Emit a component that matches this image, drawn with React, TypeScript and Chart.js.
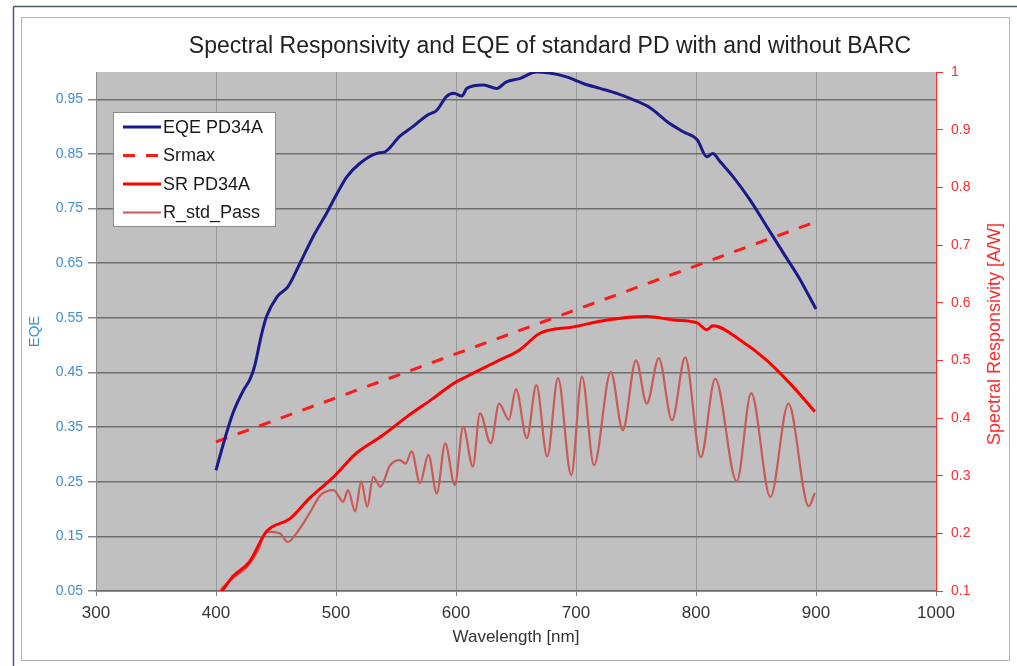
import React, { useEffect, useRef } from "react";
import { Chart, registerables } from "chart.js";

Chart.register(...registerables);

const TITLE = "Spectral Responsivity and EQE of standard PD with and without BARC";
const X_TITLE = "Wavelength [nm]";
const Y_LEFT_TITLE = "EQE";
const Y_RIGHT_TITLE = "Spectral Responsivity [A/W]";
const seriesNames = ["EQE PD34A", "Srmax", "SR PD34A", "R_std_Pass"];

const xTicks = [300, 400, 500, 600, 700, 800, 900, 1000];
const eqeTicks = [0.05, 0.15, 0.25, 0.35, 0.45, 0.55, 0.65, 0.75, 0.85, 0.95];
const srTicks = [0.1, 0.2, 0.3, 0.4, 0.5, 0.6, 0.7, 0.8, 0.9, 1.0];

const eqeWavelength = [400, 407, 414, 423, 428, 432, 438, 442, 451, 460, 470, 481, 492, 501, 509, 520, 534, 541, 553, 564, 576, 584, 592, 598, 605, 609, 623, 634, 642, 653, 667, 678, 692, 706, 720, 734, 748, 762, 776, 789, 801, 809, 814, 820, 831, 845, 859, 873, 887, 900];
const eqeValues = [0.271, 0.326, 0.375, 0.418, 0.436, 0.46, 0.52, 0.552, 0.589, 0.607, 0.65, 0.699, 0.741, 0.778, 0.808, 0.833, 0.851, 0.854, 0.882, 0.9, 0.921, 0.93, 0.955, 0.961, 0.956, 0.97, 0.976, 0.97, 0.982, 0.988, 1.0, 0.998, 0.991, 0.979, 0.97, 0.961, 0.949, 0.934, 0.909, 0.891, 0.876, 0.845, 0.851, 0.836, 0.808, 0.766, 0.717, 0.668, 0.619, 0.566];

const srmaxWavelength = [400, 900];
const srmaxValues = [0.323, 0.726];

const srWavelength = [400, 405, 414, 428, 442, 462, 478, 498, 517, 539, 559, 581, 598, 609, 634, 653, 670, 698, 726, 759, 781, 801, 809, 814, 837, 859, 881, 899];
const srValues = [0.088, 0.1, 0.125, 0.151, 0.203, 0.226, 0.261, 0.298, 0.339, 0.37, 0.402, 0.434, 0.46, 0.472, 0.498, 0.518, 0.547, 0.558, 0.57, 0.576, 0.57, 0.565, 0.553, 0.56, 0.535, 0.5, 0.454, 0.411];

const rstdWavelength = [400, 403, 414, 426, 435, 442, 453, 460, 467, 478, 487, 498, 506, 510, 516, 521, 526, 531, 537, 545, 553, 558, 563, 570, 577, 584, 591, 599, 606, 614, 620, 629, 636, 644, 650, 659, 667, 676, 685, 696, 705, 715, 729, 739, 750, 759, 769, 780, 791, 804, 816, 834, 846, 862, 877, 894, 899];
const rstdValues = [0.085, 0.099, 0.122, 0.142, 0.17, 0.203, 0.2, 0.185, 0.2, 0.235, 0.266, 0.275, 0.255, 0.275, 0.238, 0.29, 0.246, 0.298, 0.281, 0.318, 0.327, 0.321, 0.342, 0.287, 0.336, 0.269, 0.356, 0.284, 0.385, 0.316, 0.408, 0.356, 0.425, 0.397, 0.45, 0.365, 0.457, 0.333, 0.469, 0.301, 0.472, 0.318, 0.48, 0.379, 0.5, 0.425, 0.504, 0.396, 0.505, 0.332, 0.468, 0.29, 0.443, 0.263, 0.425, 0.247, 0.27];

const COLORS = {
  eqe: "#1a1a8a",
  srmax: "#ff1a1a",
  sr: "#ff0000",
  rstd: "#c95a55",
  leftAxis: "#3f8fd2",
  rightAxis: "#ff2a2a",
  plotBg: "#c0c0c0",
};

const FONT = "'Liberation Sans', Arial, sans-serif";

const toPoints = (xs: number[], ys: number[]) => xs.map((x, i) => ({ x, y: ys[i] }));

const decorPlugin = {
  id: "decor",
  beforeDraw(chart: any) {
    const { ctx, chartArea: a } = chart;
    ctx.save();
    ctx.fillStyle = "#ffffff";
    ctx.fillRect(0, 0, chart.width, chart.height);
    // outer frame
    ctx.strokeStyle = "#4b5870";
    ctx.lineWidth = 1.5;
    ctx.beginPath();
    ctx.moveTo(13.5, 6.5);
    ctx.lineTo(1017, 6.5);
    ctx.moveTo(13.5, 6.5);
    ctx.lineTo(13.5, 666);
    ctx.stroke();
    ctx.strokeStyle = "#b4b4b4";
    ctx.lineWidth = 1;
    ctx.strokeRect(21.5, 17.5, 988, 643);
    // plot background
    ctx.fillStyle = COLORS.plotBg;
    ctx.fillRect(a.left, a.top, a.right - a.left, a.bottom - a.top);
    ctx.restore();
  },
  afterDraw(chart: any) {
    const { ctx } = chart;
    ctx.save();
    // title
    ctx.fillStyle = "#222222";
    ctx.font = `23px ${FONT}`;
    ctx.textAlign = "center";
    ctx.textBaseline = "middle";
    ctx.fillText(TITLE, 550, 47);
    // right axis title (reads bottom to top)
    ctx.save();
    ctx.translate(995, 334);
    ctx.rotate(-Math.PI / 2);
    ctx.fillStyle = COLORS.rightAxis;
    ctx.font = `18px ${FONT}`;
    ctx.fillText(Y_RIGHT_TITLE, 0, 0);
    ctx.restore();
    // legend
    const bx = 113.5, by = 112.5, bw = 162, bh = 114;
    ctx.fillStyle = "#ffffff";
    ctx.fillRect(bx, by, bw, bh);
    ctx.strokeStyle = "#8c8c8c";
    ctx.lineWidth = 1;
    ctx.strokeRect(bx, by, bw, bh);
    const styles = [
      { color: COLORS.eqe, width: 3, dash: [] as number[] },
      { color: COLORS.srmax, width: 3, dash: [12, 11] },
      { color: COLORS.sr, width: 3, dash: [] as number[] },
      { color: COLORS.rstd, width: 2, dash: [] as number[] },
    ];
    const rowY = [127, 155.5, 184, 212.5];
    seriesNames.forEach((name, i) => {
      const s = styles[i];
      ctx.beginPath();
      ctx.setLineDash(s.dash);
      ctx.strokeStyle = s.color;
      ctx.lineWidth = s.width;
      ctx.moveTo(123, rowY[i]);
      ctx.lineTo(161, rowY[i]);
      ctx.stroke();
      ctx.setLineDash([]);
      ctx.fillStyle = "#1a1a1a";
      ctx.font = `18px ${FONT}`;
      ctx.textAlign = "left";
      ctx.textBaseline = "middle";
      ctx.fillText(name, 163, rowY[i] + 1);
    });
    ctx.restore();
  },
};

export default function App() {
  const canvasRef = useRef<HTMLCanvasElement | null>(null);

  useEffect(() => {
    const canvas = canvasRef.current;
    if (!canvas) return;
    const chart = new Chart(canvas, {
      type: "line",
      data: {
        datasets: [
          {
            label: seriesNames[0],
            data: toPoints(eqeWavelength, eqeValues),
            borderColor: COLORS.eqe,
            borderWidth: 3,
            pointRadius: 0,
            cubicInterpolationMode: "monotone",
            yAxisID: "y",
          },
          {
            label: seriesNames[1],
            data: toPoints(srmaxWavelength, srmaxValues),
            borderColor: COLORS.srmax,
            borderWidth: 3,
            borderDash: [12, 11],
            pointRadius: 0,
            yAxisID: "y",
          },
          {
            label: seriesNames[2],
            data: toPoints(srWavelength, srValues),
            borderColor: COLORS.sr,
            borderWidth: 3,
            pointRadius: 0,
            cubicInterpolationMode: "monotone",
            yAxisID: "y1",
          },
          {
            label: seriesNames[3],
            data: toPoints(rstdWavelength, rstdValues),
            borderColor: COLORS.rstd,
            borderWidth: 2.2,
            pointRadius: 0,
            cubicInterpolationMode: "monotone",
            yAxisID: "y1",
          },
        ],
      },
      options: {
        animation: false,
        responsive: false,
        devicePixelRatio: 1,
        layout: { padding: { left: 22, right: 10, top: 72, bottom: 16 } },
        plugins: {
          legend: { display: false },
          title: { display: false },
          tooltip: { enabled: false },
        },
        scales: {
          x: {
            type: "linear",
            min: 300,
            max: 1000,
            afterBuildTicks: (scale: any) => {
              scale.ticks = xTicks.map((v) => ({ value: v }));
            },
            afterFit: (scale: any) => {
              scale.height = 59;
            },
            ticks: {
              color: "#333333",
              font: { family: FONT, size: 17 },
              padding: 7,
              maxRotation: 0,
              callback: (v: any) => String(v),
            },
            grid: {
              color: "#9a9a9a",
              lineWidth: 1,
              tickLength: 5,
              tickColor: "#808080",
            },
            border: { color: "#6a6a6a", width: 1.5 },
            title: {
              display: true,
              text: X_TITLE,
              color: "#333333",
              font: { family: FONT, size: 17 },
              padding: { top: 0, bottom: 2 },
            },
          },
          y: {
            type: "linear",
            position: "left",
            min: 0.05,
            max: 1.0,
            afterBuildTicks: (scale: any) => {
              scale.ticks = eqeTicks.map((v) => ({ value: v }));
            },
            afterFit: (scale: any) => {
              scale.width = 74;
            },
            ticks: {
              color: COLORS.leftAxis,
              font: { family: FONT, size: 14 },
              padding: 5,
              callback: (v: any) => Number(v).toFixed(2),
            },
            grid: {
              color: "#6e6e6e",
              lineWidth: 1.5,
              tickLength: 8,
              tickColor: "#8a8a8a",
            },
            border: { color: "#8a8a8a", width: 1 },
            title: {
              display: true,
              text: Y_LEFT_TITLE,
              color: COLORS.leftAxis,
              font: { family: FONT, size: 15 },
              padding: { top: 4, bottom: 4 },
            },
          },
          y1: {
            type: "linear",
            position: "right",
            min: 0.1,
            max: 1.0,
            afterBuildTicks: (scale: any) => {
              scale.ticks = srTicks.map((v) => ({ value: v }));
            },
            afterFit: (scale: any) => {
              scale.width = 71;
            },
            ticks: {
              color: COLORS.rightAxis,
              font: { family: FONT, size: 14 },
              padding: 8,
              callback: (v: any) => (Number(v) === 1 ? "1" : Number(v).toFixed(1)),
            },
            grid: {
              drawOnChartArea: false,
              tickLength: 7,
              tickColor: COLORS.rightAxis,
            },
            border: { color: COLORS.rightAxis, width: 1 },
            title: { display: false },
          },
        },
      },
      plugins: [decorPlugin],
    });
    return () => chart.destroy();
  }, []);

  return (
    <div style={{ position: "absolute", left: 0, top: 0, width: 1017, height: 666 }}>
      <canvas ref={canvasRef} width={1017} height={666} style={{ width: 1017, height: 666, display: "block" }} />
    </div>
  );
}
